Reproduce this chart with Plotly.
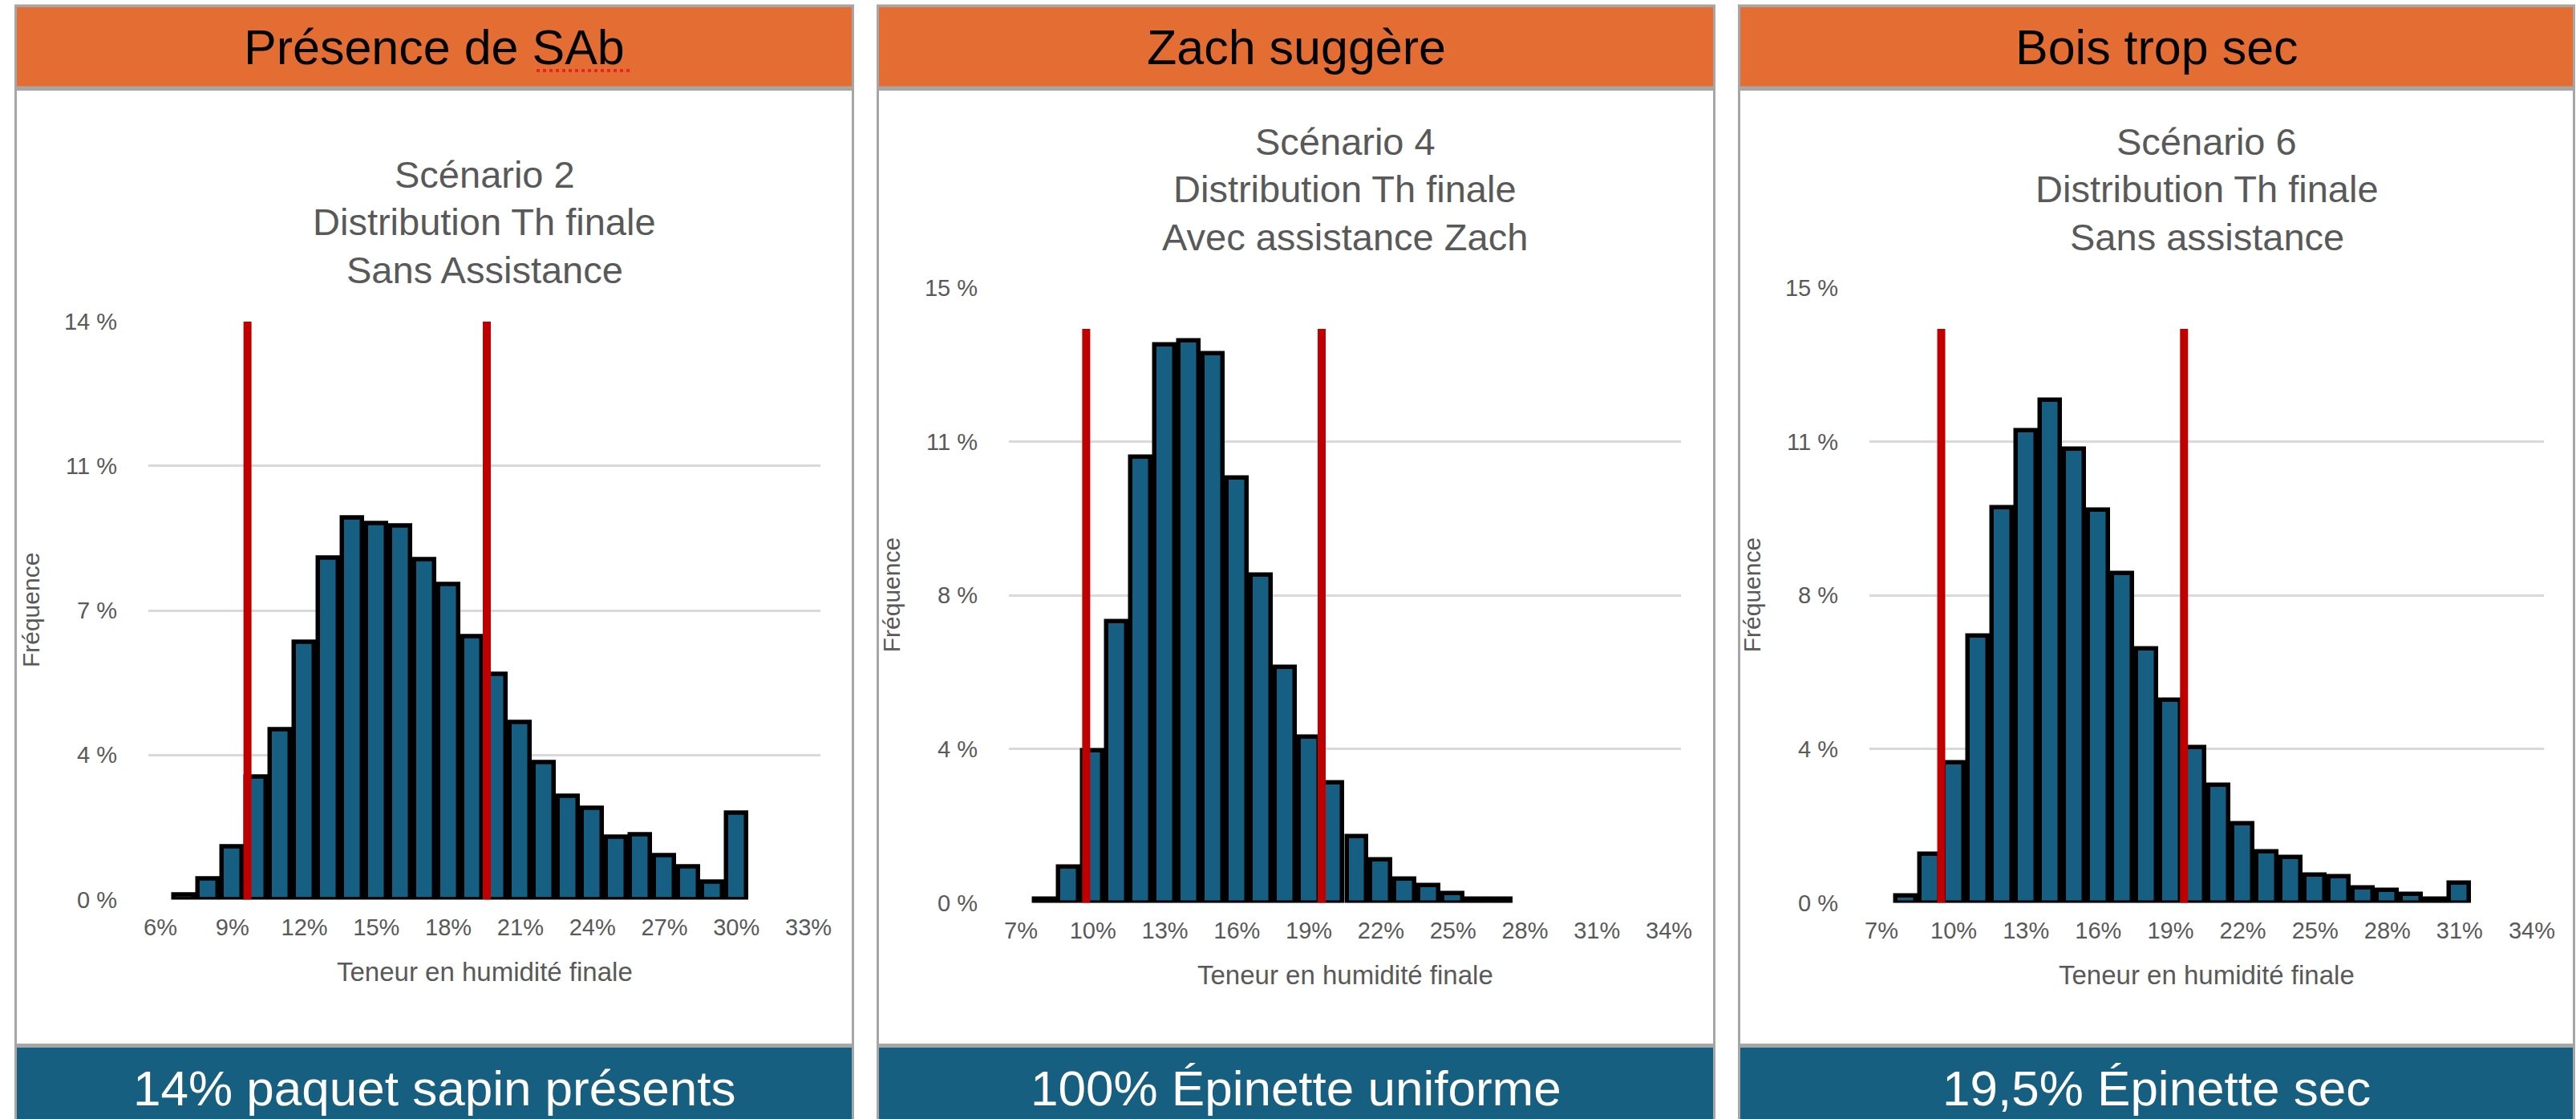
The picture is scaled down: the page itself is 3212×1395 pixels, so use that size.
import plotly.graph_objects as go

W, H = 3212, 1395
FONT = "Liberation Sans, Arial, Helvetica, sans-serif"

# ---------------- data ----------------
headers = ["Présence de SAb", "Zach suggère", "Bois trop sec"]
footers = ["14% paquet sapin présents", "100% Épinette uniforme", "19,5% Épinette sec"]
titles = [
    ["Scénario 2", "Distribution Th finale", "Sans Assistance"],
    ["Scénario 4", "Distribution Th finale", "Avec assistance Zach"],
    ["Scénario 6", "Distribution Th finale", "Sans assistance"],
]
x_title = "Teneur en humidité finale"
y_title = "Fréquence"

bins_1 = [7, 8, 9, 10, 11, 12, 13, 14, 15, 16, 17, 18, 19, 20, 21, 22, 23, 24, 25, 26, 27, 28, 29, 30]
freq_1 = [0.12, 0.50, 1.28, 2.96, 4.12, 6.23, 8.27, 9.24, 9.11, 9.05, 8.24, 7.62,
          6.36, 5.45, 4.29, 3.32, 2.51, 2.21, 1.51, 1.57, 1.07, 0.79, 0.42, 2.10]

bins_2 = [8, 9, 10, 11, 12, 13, 14, 15, 16, 17, 18, 19, 20, 21, 22, 23, 24, 25, 26, 27]
freq_2 = [0.08, 0.87, 3.70, 6.85, 10.88, 13.62, 13.71, 13.39, 10.37, 8.00,
          5.75, 4.05, 2.93, 1.62, 1.04, 0.57, 0.43, 0.23, 0.08, 0.08]

bins_3 = [8, 9, 10, 11, 12, 13, 14, 15, 16, 17, 18, 19, 20, 21, 22, 23, 24, 25, 26, 27, 28, 29, 30, 31]
freq_3 = [0.17, 1.18, 3.42, 6.51, 9.64, 11.52, 12.26, 11.06, 9.58, 8.03, 6.20, 4.95,
          3.79, 2.87, 1.92, 1.24, 1.10, 0.67, 0.64, 0.37, 0.30, 0.20, 0.08, 0.47]

limits_1 = [9.63, 19.6]
limits_2 = [9.72, 19.53]
limits_3 = [9.48, 19.56]
limit_top = 14

x_range_1 = [5.5, 33.5]
x_range_23 = [6.5, 34.5]
xtick_vals_1 = [6, 9, 12, 15, 18, 21, 24, 27, 30, 33]
xtick_text_1 = ["6%", "9%", "12%", "15%", "18%", "21%", "24%", "27%", "30%", "33%"]
xtick_vals_23 = [7, 10, 13, 16, 19, 22, 25, 28, 31, 34]
xtick_text_23 = ["7%", "10%", "13%", "16%", "19%", "22%", "25%", "28%", "31%", "34%"]

y_range_1 = [0, 14]
y_range_23 = [0, 15]
ytick_vals_1 = [0, 3.5, 7, 10.5, 14]
ytick_text_1 = ["0 %", "4 %", "7 %", "11 %", "14 %"]
ytick_vals_23 = [0, 3.75, 7.5, 11.25, 15]
ytick_text_23 = ["0 %", "4 %", "8 %", "11 %", "15 %"]

series = [
    (bins_1, freq_1, limits_1, x_range_1, xtick_vals_1, xtick_text_1, y_range_1, ytick_vals_1, ytick_text_1),
    (bins_2, freq_2, limits_2, x_range_23, xtick_vals_23, xtick_text_23, y_range_23, ytick_vals_23, ytick_text_23),
    (bins_3, freq_3, limits_3, x_range_23, xtick_vals_23, xtick_text_23, y_range_23, ytick_vals_23, ytick_text_23),
]

# ---------------- layout geometry (pixels) ----------------
panel_box = [(18, 1065), (1093, 2139), (2167, 3211)]
plot_x = [(185, 1023), (1258, 2096), (2331, 3172)]
plot_y = [(1121.5, 400.7), (1125.5, 359), (1125.5, 359)]  # (bottom, top)

ORANGE = "#E46D33"
BLUE = "#175F81"
BAR = "#175F82"
GRAY_BORDER = "#A6A6A6"
TEXT_GRAY = "#595959"
RED = "#C00000"


def px(x):
    return x / W


def py(y):
    return 1 - y / H


fig = go.Figure()
shapes = []
annotations = []

for i, (bins, freq, lims, xr, xtv, xtt, yr, ytv, ytt) in enumerate(series):
    n = "" if i == 0 else str(i + 1)
    xa, ya = "x" + n, "y" + n
    fig.add_trace(go.Bar(
        x=bins, y=freq, width=0.83,
        marker=dict(color=BAR, line=dict(color="black", width=5.5)),
        xaxis=xa, yaxis=ya, hoverinfo="skip", showlegend=False,
    ))
    fig.add_trace(go.Scatter(
        x=[lims[0], lims[0], None, lims[1], lims[1]],
        y=[0, limit_top, None, 0, limit_top],
        mode="lines", line=dict(color=RED, width=10),
        xaxis=xa, yaxis=ya, hoverinfo="skip", showlegend=False, cliponaxis=False,
    ))

    x0, x1 = plot_x[i]
    yb, yt = plot_y[i]
    fig.layout["xaxis" + n] = dict(
        domain=[px(x0), px(x1)], range=xr, anchor=ya,
        tickmode="array", tickvals=xtv, ticktext=xtt,
        showgrid=False, zeroline=False, showline=False, ticks="",
        tickfont=dict(family=FONT, size=29, color=TEXT_GRAY),
        ticklabelstandoff=14, fixedrange=True, automargin=False,
    )
    fig.layout["yaxis" + n] = dict(
        domain=[py(yb), py(yt)], range=yr, anchor=xa,
        tickmode="array", tickvals=ytv, ticktext=ytt,
        showgrid=True, gridcolor="#D9D9D9", gridwidth=3,
        zeroline=False, showline=False, ticks="",
        tickfont=dict(family=FONT, size=29, color=TEXT_GRAY),
        ticklabelstandoff=38, fixedrange=True, automargin=False,
    )

    L, R = panel_box[i]
    shapes += [
        dict(type="rect", xref="paper", yref="paper", layer="below",
             x0=px(L), x1=px(R), y0=py(5.5), y1=py(H + 5),
             fillcolor=GRAY_BORDER, line=dict(width=0)),
        dict(type="rect", xref="paper", yref="paper", layer="below",
             x0=px(L + 3), x1=px(R - 3), y0=py(9), y1=py(107.5),
             fillcolor=ORANGE, line=dict(width=0)),
        dict(type="rect", xref="paper", yref="paper", layer="below",
             x0=px(L + 3), x1=px(R - 3), y0=py(113), y1=py(1301),
             fillcolor="white", line=dict(width=0)),
        dict(type="rect", xref="paper", yref="paper", layer="below",
             x0=px(L + 3), x1=px(R - 3), y0=py(1306), y1=py(H + 5),
             fillcolor=BLUE, line=dict(width=0)),
    ]

    cx_panel = (L + R) / 2
    cx_plot = (x0 + x1) / 2
    annotations.append(dict(
        text=headers[i], x=px(cx_panel), y=py(59), xref="paper", yref="paper",
        xanchor="center", yanchor="middle", showarrow=False,
        font=dict(family=FONT, size=61, color="black")))
    annotations.append(dict(
        text=footers[i], x=px(cx_panel), y=py(1356), xref="paper", yref="paper",
        xanchor="center", yanchor="middle", showarrow=False,
        font=dict(family=FONT, size=62, color="white")))
    for k, off in enumerate([-183, -124, -64]):
        annotations.append(dict(
            text=titles[i][k], x=px(cx_plot), y=py(yt + off), xref="paper", yref="paper",
            xanchor="center", yanchor="middle", showarrow=False,
            font=dict(family=FONT, size=47, color=TEXT_GRAY)))
    annotations.append(dict(
        text=x_title, x=px(cx_plot), y=py(yb + 90), xref="paper", yref="paper",
        xanchor="center", yanchor="middle", showarrow=False,
        font=dict(family=FONT, size=33, color=TEXT_GRAY)))
    annotations.append(dict(
        text=y_title, x=px(x0 - 147), y=py((yb + yt) / 2), xref="paper", yref="paper",
        xanchor="center", yanchor="middle", showarrow=False, textangle=-90,
        font=dict(family=FONT, size=30, color=TEXT_GRAY)))

# spell-check style dotted underline under "SAb"
shapes.append(dict(type="line", xref="paper", yref="paper", layer="above",
                   x0=px(669), x1=px(789), y0=py(88), y1=py(88),
                   line=dict(color="#E8261E", width=4, dash="dot")))

fig.update_layout(
    width=W, height=H,
    margin=dict(l=0, r=0, t=0, b=0),
    paper_bgcolor="white", plot_bgcolor="rgba(0,0,0,0)",
    shapes=shapes, annotations=annotations,
    showlegend=False, bargap=0,
    font=dict(family=FONT),
)

fig.write_html(
    "out.html",
    config={"displayModeBar": False},
    post_script="document.body.style.margin='0';document.body.style.padding='0';"
                "document.documentElement.style.overflow='hidden';",
)
